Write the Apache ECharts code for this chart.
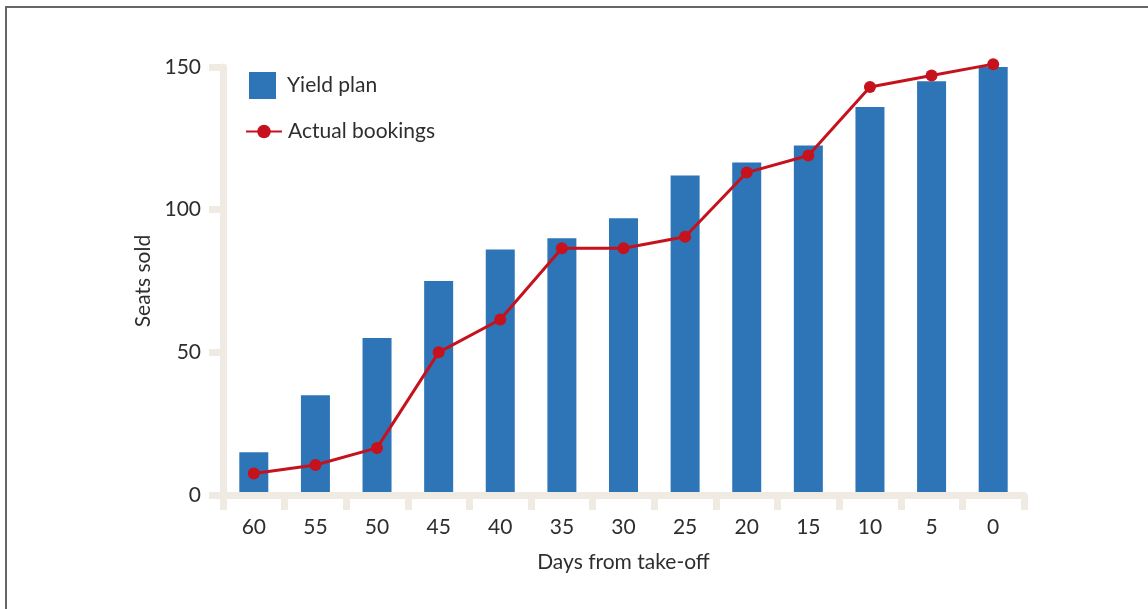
<!DOCTYPE html>
<html>
<head>
<meta charset="utf-8">
<style>
  html, body { margin: 0; padding: 0; background: #fff; }
  #chart { width: 1148px; height: 609px; }
</style>
<script src="https://cdn.jsdelivr.net/npm/echarts@6/dist/echarts.min.js"></script>
</head>
<body>
<div id="chart"></div>
<script>
// Days before departure
const days = ['60', '55', '50', '45', '40', '35', '30', '25', '20', '15', '10', '5', '0'];
// Planned cumulative seats (yield plan)
const yieldPlan = [15, 35, 55, 75, 86, 90, 97, 112, 116.5, 122.5, 136, 145, 150];
// Cumulative seats actually booked
const actualBookings = [7.5, 10.5, 16.5, 50, 61.5, 86.5, 86.5, 90.5, 113, 119, 143, 147, 151];
const yTicks = { min: 0, max: 150, interval: 50 };

const axisColor = '#efebe2';
const textColor = '#2e2e2e';
const fontFamily = 'Lato, "Noto Sans", sans-serif';
const fontSize = 21;
const barColor = '#2e75b8';
const lineColor = '#c5121c';

const chart = echarts.init(document.getElementById('chart'));
chart.setOption({
  backgroundColor: '#fff',
  animation: false,
  textStyle: { fontFamily: fontFamily, color: textColor },
  graphic: [
    { type: 'rect', left: 5, top: 6, shape: { width: 1143, height: 2 }, style: { fill: '#666' } },
    { type: 'rect', left: 5, top: 6, shape: { width: 2, height: 603 }, style: { fill: '#666' } }
  ],
  grid: { left: 223, right: 124, top: 67, bottom: 114 },
  legend: [
    {
      orient: 'vertical', left: 249, top: 72, padding: 0,
      itemWidth: 27, itemHeight: 27,
      data: [{ name: 'Yield plan', icon: 'rect' }],
      textStyle: { fontSize: fontSize, color: textColor, fontFamily: fontFamily, padding: [3, 0, 0, 6] }
    },
    {
      orient: 'vertical', left: 245, top: 121, padding: 0,
      itemWidth: 36, itemHeight: 17,
      data: ['Actual bookings'],
      textStyle: { fontSize: fontSize, color: textColor, fontFamily: fontFamily, padding: [0, 0, 0, 1] }
    }
  ],
  xAxis: {
    type: 'category',
    data: days,
    z: 3,
    name: 'Days from take-off',
    nameLocation: 'middle',
    nameGap: 57,
    nameTextStyle: { fontSize: fontSize, color: textColor, fontFamily: fontFamily },
    axisLine: { lineStyle: { color: axisColor, width: 7 } },
    axisTick: { show: true, length: 15, lineStyle: { color: axisColor, width: 7 } },
    axisLabel: { margin: 22, fontSize: fontSize, color: textColor, fontFamily: fontFamily },
    splitLine: { show: false }
  },
  yAxis: {
    type: 'value',
    min: yTicks.min, max: yTicks.max, interval: yTicks.interval,
    z: 3,
    name: 'Seats sold',
    nameLocation: 'middle',
    nameGap: 64,
    nameTextStyle: { fontSize: fontSize, color: textColor, fontFamily: fontFamily },
    axisLine: { show: true, lineStyle: { color: axisColor, width: 7 } },
    axisTick: { show: true, length: 14, lineStyle: { color: axisColor, width: 7 } },
    axisLabel: { margin: 22, fontSize: fontSize, color: textColor, fontFamily: fontFamily },
    splitLine: { show: false }
  },
  series: [
    {
      name: 'Yield plan',
      type: 'bar',
      data: yieldPlan,
      barWidth: 29,
      itemStyle: { color: barColor }
    },
    {
      name: 'Actual bookings',
      type: 'line',
      data: actualBookings,
      clip: false,
      symbol: 'circle',
      symbolSize: 12,
      lineStyle: { color: lineColor, width: 3 },
      itemStyle: { color: lineColor }
    }
  ]
});
</script>
</body>
</html>
